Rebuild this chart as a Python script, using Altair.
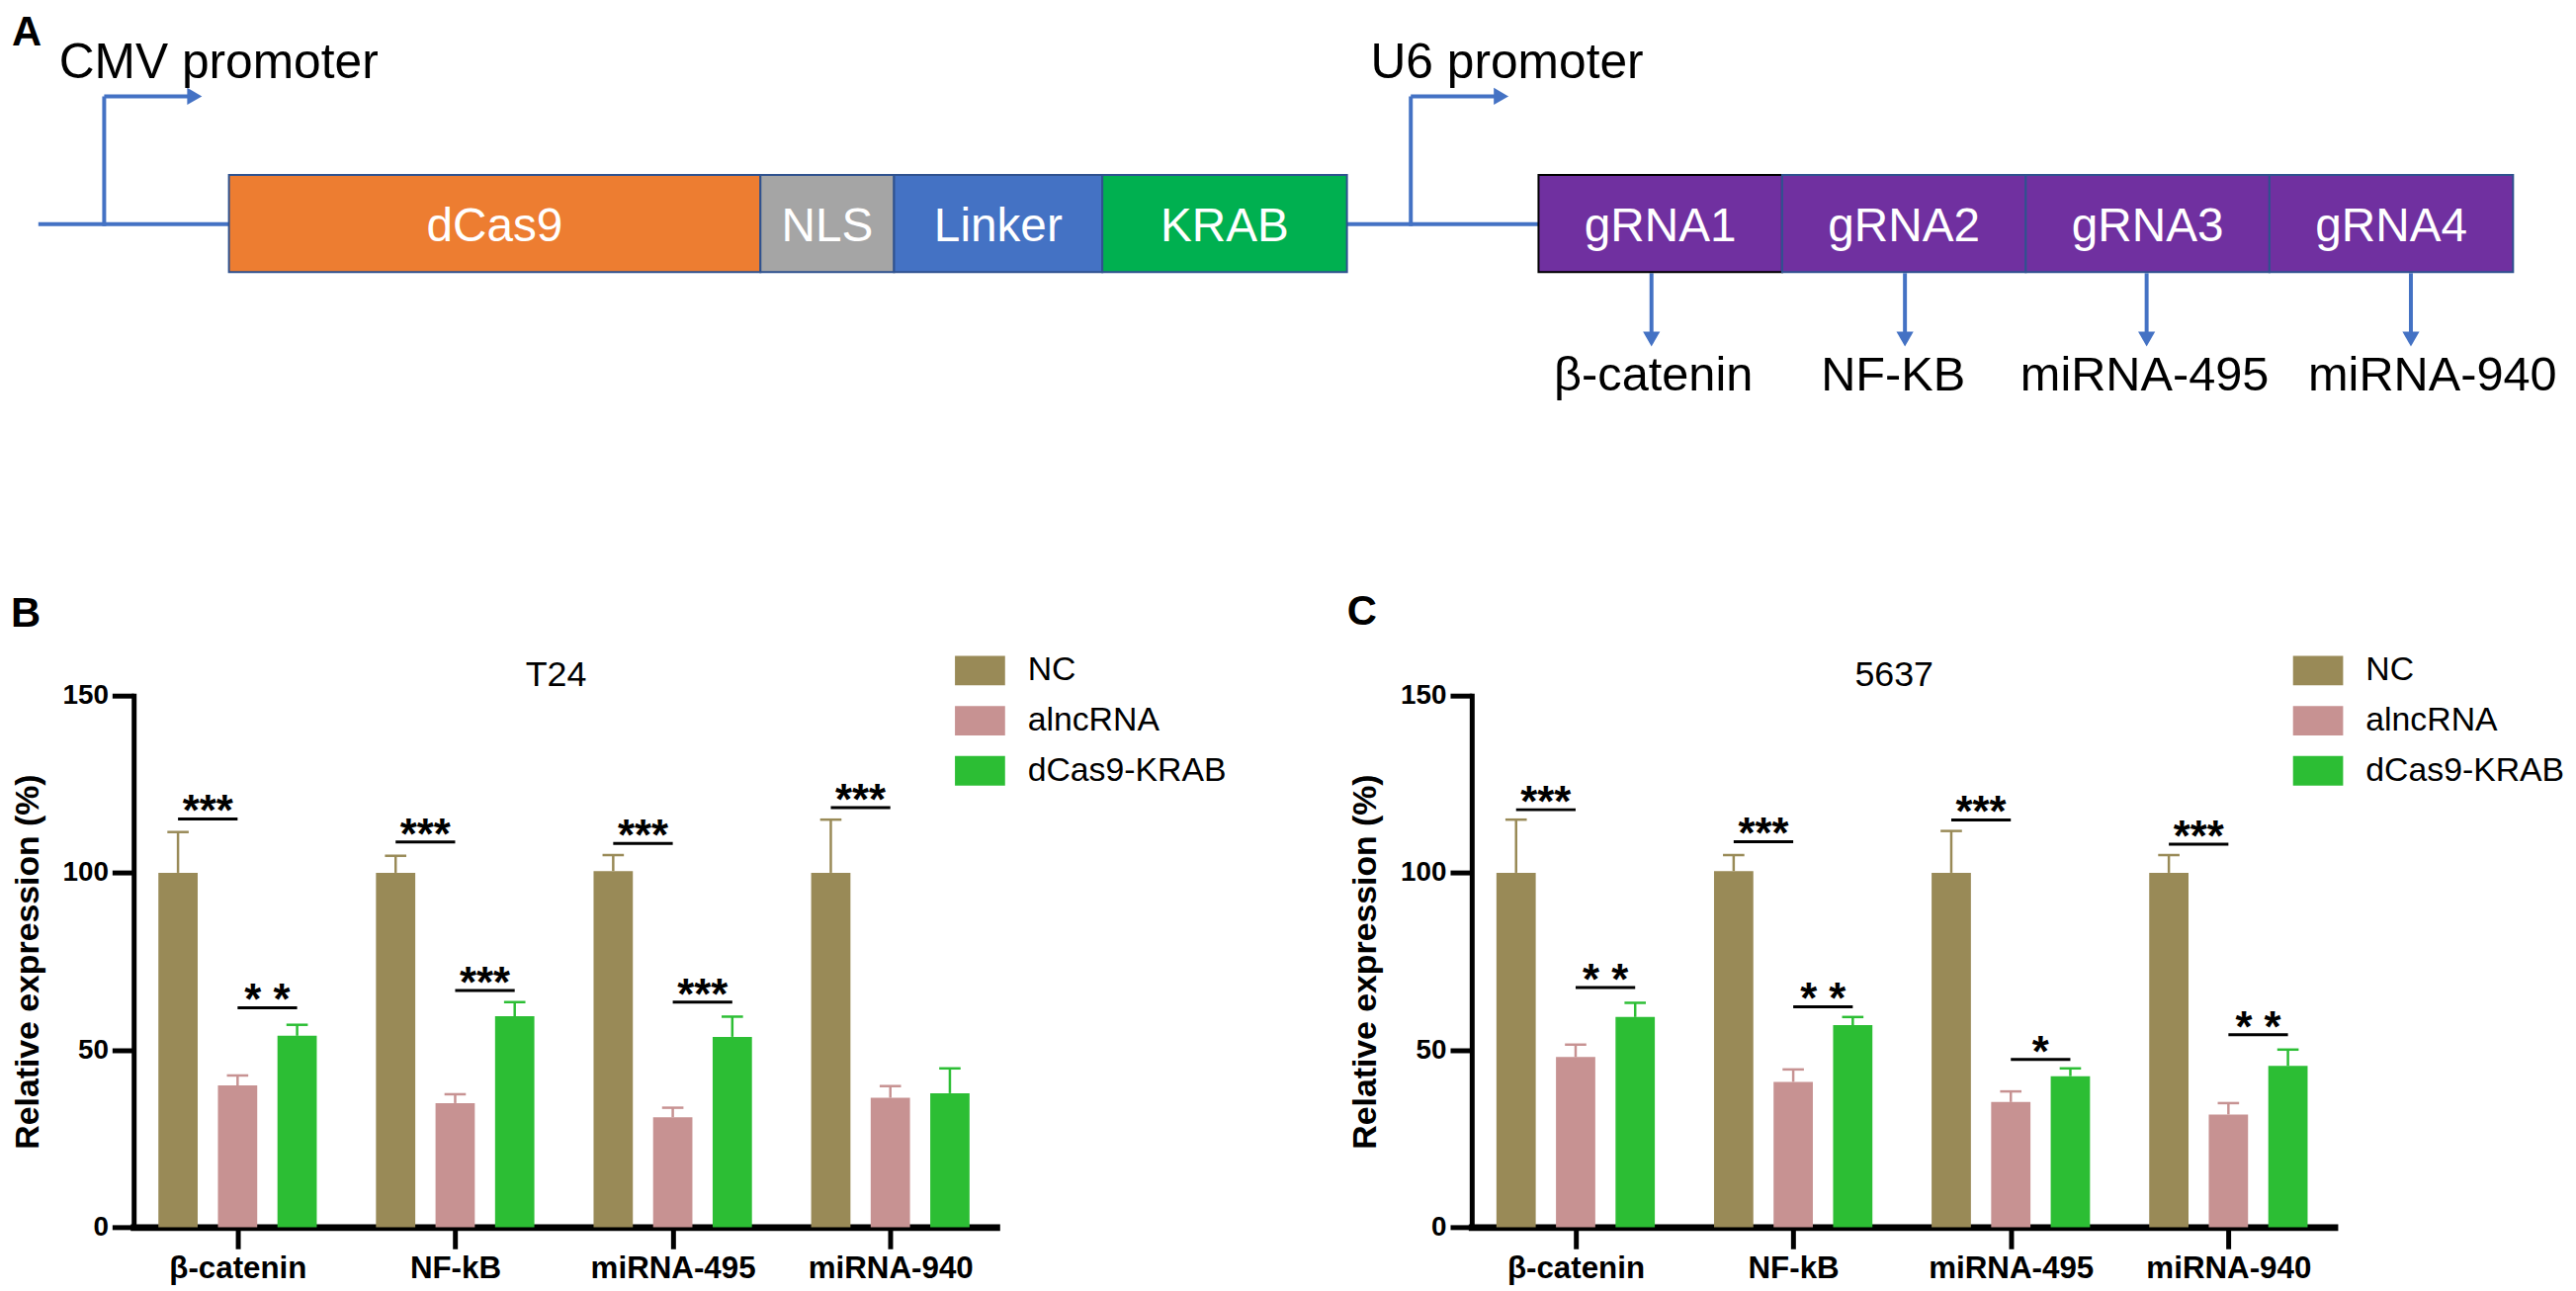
import altair as alt
import pandas as pd

FONT = "Liberation Sans"
BLUE = "#4472C4"
OUTLINE = "#2F528F"

# ---------------- Panel A: construct map ----------------
cmv_parts = ["dCas9", "NLS", "Linker", "KRAB"]
cmv_widths = [541, 136, 212, 249]
cmv_fills = ["#ED7D31", "#A5A5A5", "#4472C4", "#00B050"]
u6_parts = ["gRNA1", "gRNA2", "gRNA3", "gRNA4"]
u6_widths = [248, 248, 248, 248]
u6_fill = "#7030A0"
promoters = ["CMV promoter", "U6 promoter"]
targets = ["β-catenin", "NF-KB", "miRNA-495", "miRNA-940"]
panel_letters = ["A", "B", "C"]

# ---------------- Panels B and C: bar data ----------------
categories = ["β-catenin", "NF-kB", "miRNA-495", "miRNA-940"]
groups = ["NC", "alncRNA", "dCas9-KRAB"]
group_colors = ["#998A57", "#C79292", "#2CBE34"]

t24_nc = [100, 100, 100.5, 100]
t24_nc_sd = [11.5, 4.8, 4.5, 15.0]
t24_alnc = [40.0, 35.0, 31.0, 36.5]
t24_alnc_sd = [2.8, 2.5, 2.7, 3.3]
t24_dcas9 = [54.0, 59.5, 53.7, 37.8]
t24_dcas9_sd = [3.1, 4.0, 5.7, 7.0]
t24_sig_cat = [0, 0, 1, 1, 2, 2, 3]
t24_sig_pair = [0, 1, 0, 1, 0, 1, 0]
t24_sig_label = ["***", "* *", "***", "***", "***", "***", "***"]
t24_sig_y = [115.2, 61.9, 108.7, 66.8, 108.3, 63.5, 118.4]

c5637_nc = [100, 100.5, 100, 100]
c5637_nc_sd = [15.0, 4.5, 11.8, 5.0]
c5637_alnc = [48.0, 41.0, 35.3, 31.8]
c5637_alnc_sd = [3.5, 3.5, 3.0, 3.2]
c5637_dcas9 = [59.3, 57.0, 42.6, 45.5]
c5637_dcas9_sd = [4.0, 2.3, 2.2, 4.6]
c5637_sig_cat = [0, 0, 1, 1, 2, 2, 3, 3]
c5637_sig_pair = [0, 1, 0, 1, 0, 1, 0, 1]
c5637_sig_label = ["***", "* *", "***", "* *", "***", "*", "***", "* *"]
c5637_sig_y = [117.8, 67.6, 108.8, 62.2, 114.9, 47.3, 108.1, 54.3]

# ---------------- layout (reference pixel frame) ----------------
A_X0, A_X1 = 128, 2606
A_Y0, A_Y1 = 8, 608
ROW_Y = 222
BOX_TOP, BOX_BOT = 172, 271
CMV_BOX_X = 225
U6_BOX_X = 1558
LINE_X0 = 31
PROM_X = [98, 1428]
PROM_TEXT_X = [52, 1387]
PROM_Y = 92
PROM_LEN = 100
ARROW_X = [1673, 1931, 2177, 2446]
TARGET_X = [1675, 1919, 2175, 2468]
ARROW_TOP, ARROW_TIP = 272, 347

xA = alt.Scale(domain=[A_X0, A_X1], nice=False, zero=False)
yA = alt.Scale(domain=[A_Y0, A_Y1], nice=False, zero=False, reverse=True)

# boxes
rows = []
x = CMV_BOX_X
for n, w, f in zip(cmv_parts, cmv_widths, cmv_fills):
    rows.append(dict(name=n, x=x, x2=x + w, fill=f, stroke=OUTLINE))
    x += w
cmv_end = x
x = U6_BOX_X
for i, (n, w) in enumerate(zip(u6_parts, u6_widths)):
    rows.append(dict(name=n, x=x, x2=x + w, fill=u6_fill,
                     stroke="#000000" if i == 0 else OUTLINE))
    x += w
boxes = pd.DataFrame(rows)
boxes["cx"] = (boxes["x"] + boxes["x2"]) / 2
boxes["y"] = BOX_TOP
boxes["y2"] = BOX_BOT
boxes["ty"] = ROW_Y

lines = [
    (LINE_X0, ROW_Y, CMV_BOX_X, ROW_Y),
    (cmv_end, ROW_Y, U6_BOX_X, ROW_Y),
]
for px in PROM_X:
    lines.append((px, ROW_Y + 2, px, PROM_Y))
    lines.append((px, PROM_Y, px + PROM_LEN - 12, PROM_Y))
for ax in ARROW_X:
    lines.append((ax, ARROW_TOP, ax, ARROW_TIP - 12))
lines_df = pd.DataFrame(lines, columns=["x", "y", "x2", "y2"])

heads = [(px + PROM_LEN - 8, PROM_Y, "triangle-right") for px in PROM_X]
heads += [(ax, ARROW_TIP - 8, "triangle-down") for ax in ARROW_X]
heads_df = pd.DataFrame(heads, columns=["x", "y", "shape"])

prom_df = pd.DataFrame({"label": promoters, "x": PROM_TEXT_X, "y": [73, 73]})
tgt_df = pd.DataFrame({"label": targets, "x": TARGET_X, "y": [391] * 4})
let_df = pd.DataFrame({"label": panel_letters, "x": [4, 3, 1363], "y": [40, 632, 630]})

la = alt.Chart(lines_df).mark_rule(stroke=BLUE, strokeWidth=4).encode(
    x=alt.X("x:Q", scale=xA, axis=None), y=alt.Y("y:Q", scale=yA, axis=None),
    x2="x2:Q", y2="y2:Q")
hd = alt.Chart(heads_df).mark_point(filled=True, size=300, opacity=1, color=BLUE,
                                    strokeWidth=0).encode(
    x=alt.X("x:Q", scale=xA, axis=None), y=alt.Y("y:Q", scale=yA, axis=None),
    shape=alt.Shape("shape:N", scale=None))
bx = alt.Chart(boxes).mark_rect(strokeWidth=2).encode(
    x=alt.X("x:Q", scale=xA, axis=None), x2="x2:Q",
    y=alt.Y("y:Q", scale=yA, axis=None), y2="y2:Q",
    fill=alt.Fill("fill:N", scale=None), stroke=alt.Stroke("stroke:N", scale=None))
bt = alt.Chart(boxes).mark_text(font=FONT, fontSize=48, color="white",
                                baseline="alphabetic", dy=17).encode(
    x=alt.X("cx:Q", scale=xA, axis=None), y=alt.Y("ty:Q", scale=yA, axis=None),
    text="name:N")
pt = alt.Chart(prom_df).mark_text(font=FONT, fontSize=50, color="black", align="left",
                                  baseline="alphabetic").encode(
    x=alt.X("x:Q", scale=xA, axis=None), y=alt.Y("y:Q", scale=yA, axis=None),
    text="label:N")
tt = alt.Chart(tgt_df).mark_text(font=FONT, fontSize=49, color="black", align="center",
                                 baseline="alphabetic").encode(
    x=alt.X("x:Q", scale=xA, axis=None), y=alt.Y("y:Q", scale=yA, axis=None),
    text="label:N")
lt = alt.Chart(let_df).mark_text(font=FONT, fontWeight="bold", color="black", align="left",
                                 baseline="alphabetic", fontSize=42).encode(
    x=alt.X("x:Q", scale=xA, axis=None), y=alt.Y("y:Q", scale=yA, axis=None),
    text="label:N")

panelA = alt.layer(la, hd, bx, bt, pt, tt, lt).properties(
    width=A_X1 - A_X0, height=A_Y1 - A_Y0)

# ---------------- bar panels ----------------
STEP = 61.3 / 224
CAP = 11 / 224


def bar_panel(title, means, sds, sig_cat, sig_pair, sig_label, sig_y):
    rows = []
    for gi, g in enumerate(groups):
        for ci, c in enumerate(categories):
            rows.append({"category": c, "ci": ci, "group": g, "gi": gi,
                         "mean": means[gi][ci], "top": means[gi][ci] + sds[gi][ci]})
    df = pd.DataFrame(rows)
    sig = pd.DataFrame({"ci": sig_cat, "pair": sig_pair, "label": sig_label, "y": sig_y})

    xs = alt.Scale(domain=[-0.455, 3.464], nice=False, zero=False)
    ys = alt.Scale(domain=[0, 150], nice=False, zero=True)
    label_expr = "[" + ",".join("'" + c + "'" for c in categories) + "][datum.value]"
    xaxis = alt.Axis(values=[0, 1, 2, 3], labelExpr=label_expr, title=None, grid=False,
                     domainColor="black", domainWidth=7, domainCap="square",
                     tickColor="black", tickWidth=5, tickSize=22,
                     labelFont=FONT, labelFontSize=31.5, labelFontWeight="bold",
                     labelColor="black", labelPadding=4, labelAngle=0)
    yaxis = alt.Axis(values=[0, 50, 100, 150], title="Relative expression (%)", grid=False,
                     domainColor="black", domainWidth=5, domainCap="square",
                     tickColor="black", tickWidth=5, tickSize=22,
                     labelFont=FONT, labelFontSize=28, labelFontWeight="bold",
                     labelColor="black", labelPadding=4,
                     titleFont=FONT, titleFontSize=34, titleFontWeight="bold",
                     titleColor="black", titlePadding=18)
    cscale = alt.Scale(domain=groups, range=group_colors)
    legend = alt.Legend(orient="none", legendX=836, legendY=-51, title=None,
                        symbolType="M-1,-0.588H1V0.588H-1Z", symbolSize=2601,
                        symbolStrokeWidth=0, symbolOpacity=1,
                        labelFont=FONT, labelFontSize=34, labelColor="black",
                        labelLimit=500, labelOffset=23, rowPadding=8, padding=0)

    base = alt.Chart(df).transform_calculate(
        xpos=f"datum.ci + (datum.gi - 1) * {STEP}",
        xa=f"datum.ci + (datum.gi - 1) * {STEP} - {CAP}",
        xb=f"datum.ci + (datum.gi - 1) * {STEP} + {CAP}")
    bars = base.mark_bar(size=40).encode(
        x=alt.X("xpos:Q", scale=xs, axis=xaxis),
        y=alt.Y("mean:Q", scale=ys, axis=yaxis),
        color=alt.Color("group:N", scale=cscale, legend=legend, sort=groups))
    sscale = alt.Scale(domain=groups, range=group_colors)
    err = base.mark_rule(strokeWidth=2.5).encode(
        x="xpos:Q", y="mean:Q", y2="top:Q",
        stroke=alt.Stroke("group:N", scale=sscale, legend=None))
    caps = base.mark_rule(strokeWidth=2.5).encode(
        x="xa:Q", x2="xb:Q", y="top:Q",
        stroke=alt.Stroke("group:N", scale=sscale, legend=None))

    sbase = alt.Chart(sig).transform_calculate(
        x1=f"datum.ci + (datum.pair - 1) * {STEP}",
        x2=f"datum.ci + datum.pair * {STEP}",
        xm=f"datum.ci + (datum.pair - 0.5) * {STEP}")
    slines = sbase.mark_rule(color="black", strokeWidth=3).encode(
        x="x1:Q", x2="x2:Q", y="y:Q")
    stext = sbase.mark_text(font=FONT, fontWeight="bold", fontSize=44, color="black",
                            baseline="alphabetic", dy=7).encode(
        x="xm:Q", y="y:Q", text="label:N")

    return alt.layer(bars, err, caps, slines, stext).properties(
        width=878, height=541,
        title=alt.TitleParams(text=title, font=FONT, fontSize=36, fontWeight="normal",
                              color="black", anchor="middle", offset=8, dy=57, dx=-9))


panelB = bar_panel("T24", [t24_nc, t24_alnc, t24_dcas9],
                   [t24_nc_sd, t24_alnc_sd, t24_dcas9_sd],
                   t24_sig_cat, t24_sig_pair, t24_sig_label, t24_sig_y)
panelC = bar_panel("5637", [c5637_nc, c5637_alnc, c5637_dcas9],
                   [c5637_nc_sd, c5637_alnc_sd, c5637_dcas9_sd],
                   c5637_sig_cat, c5637_sig_pair, c5637_sig_label, c5637_sig_y)

row = alt.hconcat(panelB, panelC, spacing=484, bounds="flush").resolve_legend(
    color="independent")

chart = alt.vconcat(panelA, row, spacing=702 - A_Y1, bounds="flush").properties(
    padding={"left": 3, "top": 0, "right": 0, "bottom": 0},
    background="white").configure_view(stroke=None)

chart.save("out.html", embed_options={"renderer": "svg", "actions": False})
